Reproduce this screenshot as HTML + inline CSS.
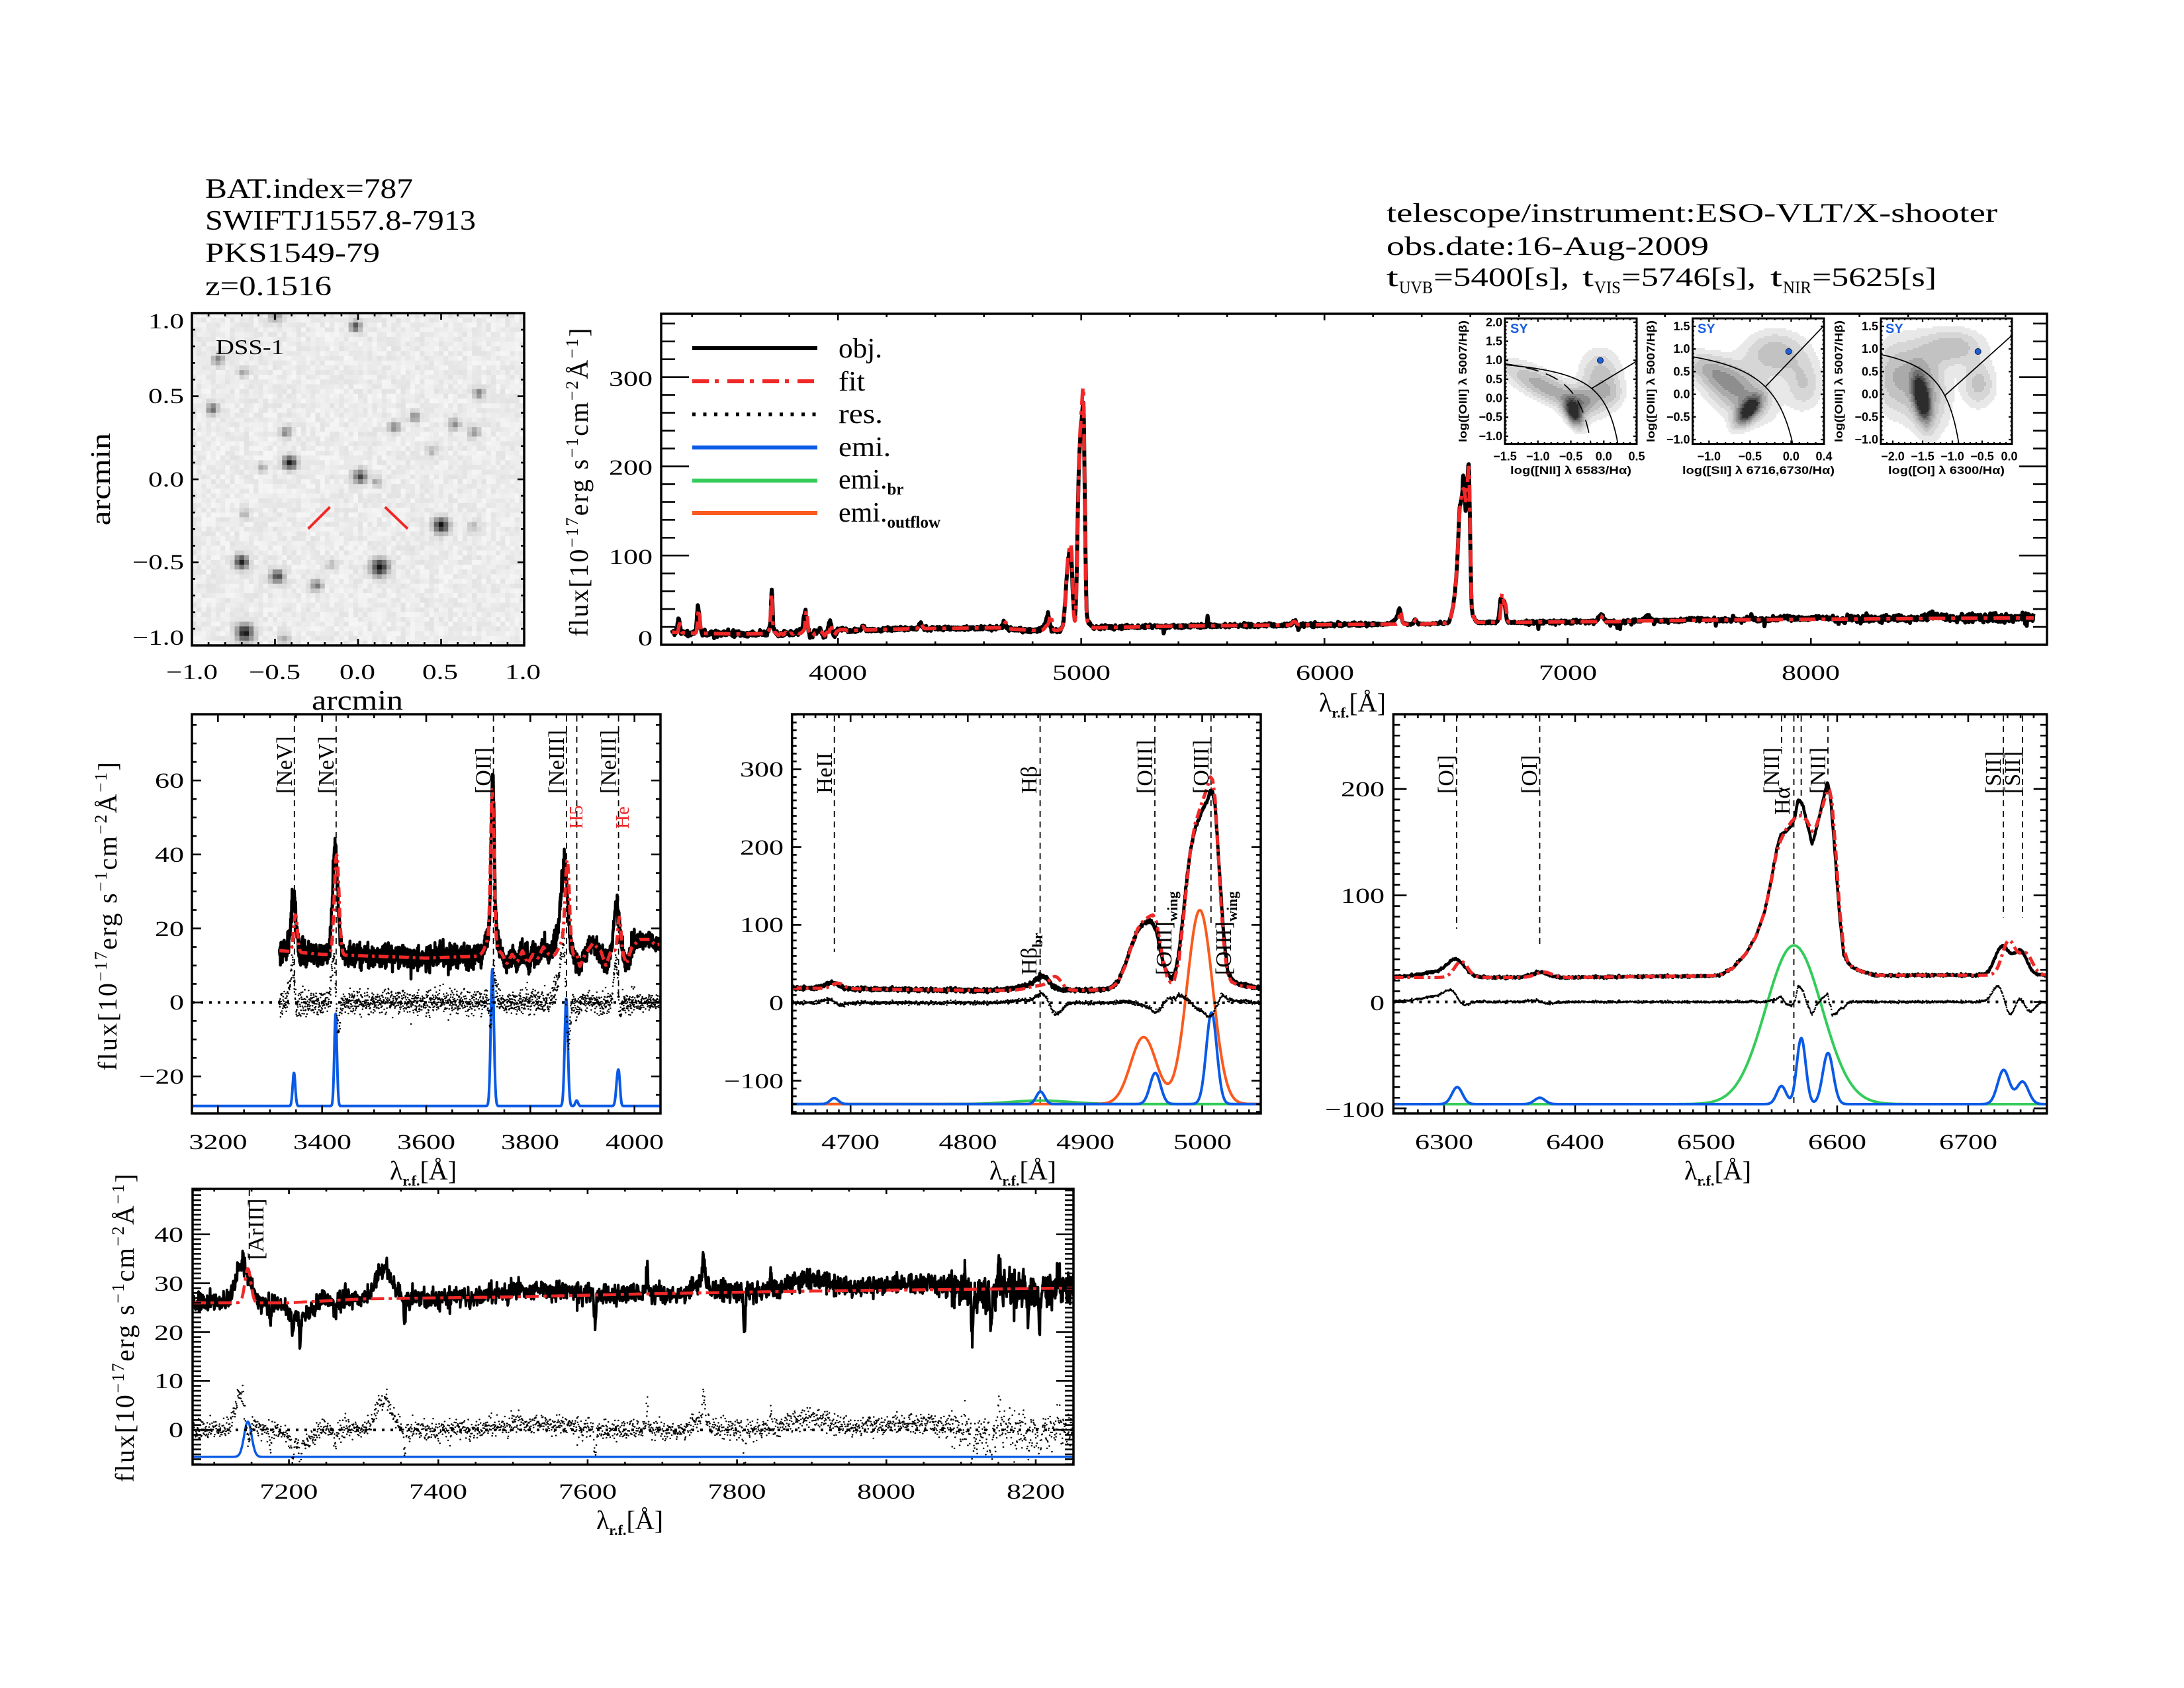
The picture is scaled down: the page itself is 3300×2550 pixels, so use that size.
<!DOCTYPE html>
<html><head><meta charset="utf-8"><title>spectrum</title>
<style>
html,body{margin:0;padding:0;background:#fff;width:3300px;height:2550px;overflow:hidden}
svg{display:block}
.s{font-family:"Liberation Serif","DejaVu Serif",serif}
.b{font-family:"Liberation Sans","DejaVu Sans",sans-serif;font-weight:bold}
</style></head><body>
<svg xmlns="http://www.w3.org/2000/svg" width="3300" height="2550" viewBox="0 0 3300 2550">
<rect width="3300" height="2550" fill="#fff"/>
<g id="dyn"></g>

<!-- DSS red marks -->
<line x1="465.6" y1="798.8" x2="498.6" y2="765.9" stroke="#f02828" stroke-width="4"/>
<line x1="581.7" y1="765.9" x2="616" y2="798.8" stroke="#f02828" stroke-width="4"/>

<!-- legend lines -->
<line x1="1046" y1="526" x2="1235" y2="526" stroke="#000" stroke-width="6"/>
<line x1="1046" y1="576" x2="1235" y2="576" stroke="#f02828" stroke-width="6" stroke-dasharray="25 9 6 13"/>
<line x1="1046" y1="626" x2="1235" y2="626" stroke="#000" stroke-width="5.5" stroke-dasharray="5 11.5"/>
<line x1="1046" y1="676" x2="1235" y2="676" stroke="#0a5ae6" stroke-width="6"/>
<line x1="1046" y1="726" x2="1235" y2="726" stroke="#33cc5a" stroke-width="6"/>
<line x1="1046" y1="775" x2="1235" y2="775" stroke="#fa5a1e" stroke-width="6"/>

<g class="s" fill="#000">
<!-- header left -->
<text x="310" y="299" font-size="42" textLength="314" lengthAdjust="spacingAndGlyphs">BAT.index=787</text>
<text x="310" y="347" font-size="42" textLength="409" lengthAdjust="spacingAndGlyphs">SWIFTJ1557.8-7913</text>
<text x="310" y="396" font-size="42" textLength="264" lengthAdjust="spacingAndGlyphs">PKS1549-79</text>
<text x="310" y="446" font-size="42" textLength="191" lengthAdjust="spacingAndGlyphs">z=0.1516</text>
<!-- header right -->
<text x="2095" y="335" font-size="40" textLength="923" lengthAdjust="spacingAndGlyphs">telescope/instrument:ESO-VLT/X-shooter</text>
<text x="2095" y="385" font-size="40" textLength="487" lengthAdjust="spacingAndGlyphs">obs.date:16-Aug-2009</text>
<text x="2095" y="432" font-size="40" textLength="18" lengthAdjust="spacingAndGlyphs">t</text>
<text x="2114" y="443" font-size="26" textLength="51" lengthAdjust="spacingAndGlyphs">UVB</text>
<text x="2166" y="432" font-size="40" textLength="205" lengthAdjust="spacingAndGlyphs">=5400[s],</text>
<text x="2391" y="432" font-size="40" textLength="17" lengthAdjust="spacingAndGlyphs">t</text>
<text x="2409" y="443" font-size="26" textLength="40" lengthAdjust="spacingAndGlyphs">VIS</text>
<text x="2450" y="432" font-size="40" textLength="203" lengthAdjust="spacingAndGlyphs">=5746[s],</text>
<text x="2675" y="432" font-size="40" textLength="18" lengthAdjust="spacingAndGlyphs">t</text>
<text x="2694" y="443" font-size="26" textLength="43" lengthAdjust="spacingAndGlyphs">NIR</text>
<text x="2738" y="432" font-size="40" textLength="188" lengthAdjust="spacingAndGlyphs">=5625[s]</text>

<!-- DSS -->
<text x="326" y="535" font-size="32" textLength="103" lengthAdjust="spacingAndGlyphs">DSS-1</text>
<g font-size="33">
<text x="278" y="496" text-anchor="end" textLength="54" lengthAdjust="spacingAndGlyphs">1.0</text>
<text x="278" y="609" text-anchor="end" textLength="54" lengthAdjust="spacingAndGlyphs">0.5</text>
<text x="278" y="735" text-anchor="end" textLength="54" lengthAdjust="spacingAndGlyphs">0.0</text>
<text x="278" y="860" text-anchor="end" textLength="78" lengthAdjust="spacingAndGlyphs">−0.5</text>
<text x="278" y="974" text-anchor="end" textLength="78" lengthAdjust="spacingAndGlyphs">−1.0</text>
<text x="290" y="1026" text-anchor="middle" textLength="78" lengthAdjust="spacingAndGlyphs">−1.0</text>
<text x="415" y="1026" text-anchor="middle" textLength="78" lengthAdjust="spacingAndGlyphs">−0.5</text>
<text x="540" y="1026" text-anchor="middle" textLength="54" lengthAdjust="spacingAndGlyphs">0.0</text>
<text x="665" y="1026" text-anchor="middle" textLength="54" lengthAdjust="spacingAndGlyphs">0.5</text>
<text x="790" y="1026" text-anchor="middle" textLength="54" lengthAdjust="spacingAndGlyphs">1.0</text>
</g>
<text x="540" y="1072" font-size="42" text-anchor="middle" textLength="138" lengthAdjust="spacingAndGlyphs">arcmin</text>
<text transform="translate(166,724) rotate(-90)" font-size="42" text-anchor="middle" textLength="140" lengthAdjust="spacingAndGlyphs">arcmin</text>

<!-- top panel -->
<g font-size="33">
<text x="986" y="975" text-anchor="end" textLength="22" lengthAdjust="spacingAndGlyphs">0</text>
<text x="986" y="852" text-anchor="end" textLength="66" lengthAdjust="spacingAndGlyphs">100</text>
<text x="986" y="717" text-anchor="end" textLength="66" lengthAdjust="spacingAndGlyphs">200</text>
<text x="986" y="583" text-anchor="end" textLength="66" lengthAdjust="spacingAndGlyphs">300</text>
<text x="1266" y="1027" text-anchor="middle" textLength="88" lengthAdjust="spacingAndGlyphs">4000</text>
<text x="1634" y="1027" text-anchor="middle" textLength="88" lengthAdjust="spacingAndGlyphs">5000</text>
<text x="2002" y="1027" text-anchor="middle" textLength="88" lengthAdjust="spacingAndGlyphs">6000</text>
<text x="2369" y="1027" text-anchor="middle" textLength="88" lengthAdjust="spacingAndGlyphs">7000</text>
<text x="2736" y="1027" text-anchor="middle" textLength="88" lengthAdjust="spacingAndGlyphs">8000</text>
</g>
<text x="1993" y="1075" font-size="40">λ<tspan font-size="22" font-weight="bold" dy="9">r.f.</tspan><tspan dy="-9">[Å]</tspan></text>
<text transform="translate(888,727.5) rotate(-90)" font-size="40" text-anchor="middle" letter-spacing="2.4">flux[10<tspan font-size="26" dy="-15">−17</tspan><tspan dy="15">erg s</tspan><tspan font-size="26" dy="-15">−1</tspan><tspan dy="15">cm</tspan><tspan font-size="26" dy="-15">−2</tspan><tspan dy="15">Å</tspan><tspan font-size="26" dy="-15">−1</tspan><tspan dy="15">]</tspan></text>
<text x="1267" y="540" font-size="42" textLength="66" lengthAdjust="spacingAndGlyphs">obj.</text>
<text x="1267" y="590" font-size="42" textLength="40" lengthAdjust="spacingAndGlyphs">fit</text>
<text x="1267" y="639" font-size="42" textLength="67" lengthAdjust="spacingAndGlyphs">res.</text>
<text x="1267" y="689" font-size="42" textLength="79" lengthAdjust="spacingAndGlyphs">emi.</text>
<text x="1267" y="738" font-size="42">emi.<tspan font-size="25" font-weight="bold" dy="9">br</tspan></text>
<text x="1267" y="788" font-size="42">emi.<tspan font-size="25" font-weight="bold" dy="9">outflow</tspan></text>

<!-- middle-left panel -->
<g font-size="33">
<text x="278" y="1190" text-anchor="end" textLength="44" lengthAdjust="spacingAndGlyphs">60</text>
<text x="278" y="1302" text-anchor="end" textLength="44" lengthAdjust="spacingAndGlyphs">40</text>
<text x="278" y="1414" text-anchor="end" textLength="44" lengthAdjust="spacingAndGlyphs">20</text>
<text x="278" y="1525" text-anchor="end" textLength="22" lengthAdjust="spacingAndGlyphs">0</text>
<text x="278" y="1637" text-anchor="end" textLength="68" lengthAdjust="spacingAndGlyphs">−20</text>
<text x="329.5" y="1736" text-anchor="middle" textLength="88" lengthAdjust="spacingAndGlyphs">3200</text>
<text x="487" y="1736" text-anchor="middle" textLength="88" lengthAdjust="spacingAndGlyphs">3400</text>
<text x="644" y="1736" text-anchor="middle" textLength="88" lengthAdjust="spacingAndGlyphs">3600</text>
<text x="801" y="1736" text-anchor="middle" textLength="88" lengthAdjust="spacingAndGlyphs">3800</text>
<text x="959" y="1736" text-anchor="middle" textLength="88" lengthAdjust="spacingAndGlyphs">4000</text>
</g>
<text x="589" y="1782" font-size="40">λ<tspan font-size="22" font-weight="bold" dy="9">r.f.</tspan><tspan dy="-9">[Å]</tspan></text>
<text transform="translate(176,1383) rotate(-90)" font-size="40" text-anchor="middle" letter-spacing="2.4">flux[10<tspan font-size="26" dy="-15">−17</tspan><tspan dy="15">erg s</tspan><tspan font-size="26" dy="-15">−1</tspan><tspan dy="15">cm</tspan><tspan font-size="26" dy="-15">−2</tspan><tspan dy="15">Å</tspan><tspan font-size="26" dy="-15">−1</tspan><tspan dy="15">]</tspan></text>
<g font-size="34">
<text transform="translate(440.8,1199) rotate(-90)">[NeV]</text>
<text transform="translate(503.9,1199) rotate(-90)">[NeV]</text>
<text transform="translate(741.6,1199) rotate(-90)">[OII]</text>
<text transform="translate(852,1199) rotate(-90)">[NeIII]</text>
<text transform="translate(930.6,1199) rotate(-90)">[NeIII]</text>
</g>
<text transform="translate(880,1252) rotate(-90)" font-size="29" fill="#f02828">H5</text>
<text transform="translate(950,1252) rotate(-90)" font-size="29" fill="#f02828">He</text>

<!-- middle panel -->
<g font-size="33">
<text x="1184" y="1173" text-anchor="end" textLength="66" lengthAdjust="spacingAndGlyphs">300</text>
<text x="1184" y="1291" text-anchor="end" textLength="66" lengthAdjust="spacingAndGlyphs">200</text>
<text x="1184" y="1408" text-anchor="end" textLength="66" lengthAdjust="spacingAndGlyphs">100</text>
<text x="1184" y="1526" text-anchor="end" textLength="22" lengthAdjust="spacingAndGlyphs">0</text>
<text x="1184" y="1644" text-anchor="end" textLength="90" lengthAdjust="spacingAndGlyphs">−100</text>
<text x="1285" y="1736" text-anchor="middle" textLength="88" lengthAdjust="spacingAndGlyphs">4700</text>
<text x="1462.5" y="1736" text-anchor="middle" textLength="88" lengthAdjust="spacingAndGlyphs">4800</text>
<text x="1640" y="1736" text-anchor="middle" textLength="88" lengthAdjust="spacingAndGlyphs">4900</text>
<text x="1817" y="1736" text-anchor="middle" textLength="88" lengthAdjust="spacingAndGlyphs">5000</text>
</g>
<text x="1495" y="1782" font-size="40">λ<tspan font-size="22" font-weight="bold" dy="9">r.f.</tspan><tspan dy="-9">[Å]</tspan></text>
<g font-size="34">
<text transform="translate(1257,1199) rotate(-90)">HeII</text>
<text transform="translate(1566,1199) rotate(-90)">Hβ</text>
<text transform="translate(1741,1199) rotate(-90)">[OIII]</text>
<text transform="translate(1826,1199) rotate(-90)">[OIII]</text>
<text transform="translate(1566,1473) rotate(-90)">Hβ<tspan font-size="22" font-weight="bold" dy="9">br</tspan></text>
<text transform="translate(1770,1473) rotate(-90)">[OIII]<tspan font-size="22" font-weight="bold" dy="9">wing</tspan></text>
<text transform="translate(1860,1473) rotate(-90)">[OIII]<tspan font-size="22" font-weight="bold" dy="9">wing</tspan></text>
</g>

<!-- right panel -->
<g font-size="33">
<text x="2092" y="1203" text-anchor="end" textLength="66" lengthAdjust="spacingAndGlyphs">200</text>
<text x="2092" y="1364" text-anchor="end" textLength="66" lengthAdjust="spacingAndGlyphs">100</text>
<text x="2092" y="1526" text-anchor="end" textLength="22" lengthAdjust="spacingAndGlyphs">0</text>
<text x="2092" y="1687" text-anchor="end" textLength="90" lengthAdjust="spacingAndGlyphs">−100</text>
<text x="2182" y="1736" text-anchor="middle" textLength="88" lengthAdjust="spacingAndGlyphs">6300</text>
<text x="2380" y="1736" text-anchor="middle" textLength="88" lengthAdjust="spacingAndGlyphs">6400</text>
<text x="2578" y="1736" text-anchor="middle" textLength="88" lengthAdjust="spacingAndGlyphs">6500</text>
<text x="2776" y="1736" text-anchor="middle" textLength="88" lengthAdjust="spacingAndGlyphs">6600</text>
<text x="2974" y="1736" text-anchor="middle" textLength="88" lengthAdjust="spacingAndGlyphs">6700</text>
</g>
<text x="2545" y="1782" font-size="40">λ<tspan font-size="22" font-weight="bold" dy="9">r.f.</tspan><tspan dy="-9">[Å]</tspan></text>
<g font-size="34">
<text transform="translate(2196,1199) rotate(-90)">[OI]</text>
<text transform="translate(2322,1199) rotate(-90)">[OI]</text>
<text transform="translate(2688,1199) rotate(-90)">[NII]</text>
<text transform="translate(2704,1231) rotate(-90)">Hα</text>
<text transform="translate(2758,1199) rotate(-90)">[NII]</text>
<text transform="translate(3023,1199) rotate(-90)">[SII]</text>
<text transform="translate(3052,1199) rotate(-90)">[SII]</text>
</g>

<!-- bottom panel -->
<g font-size="33">
<text x="277" y="1876" text-anchor="end" textLength="44" lengthAdjust="spacingAndGlyphs">40</text>
<text x="277" y="1950" text-anchor="end" textLength="44" lengthAdjust="spacingAndGlyphs">30</text>
<text x="277" y="2024" text-anchor="end" textLength="44" lengthAdjust="spacingAndGlyphs">20</text>
<text x="277" y="2097" text-anchor="end" textLength="44" lengthAdjust="spacingAndGlyphs">10</text>
<text x="277" y="2171" text-anchor="end" textLength="22" lengthAdjust="spacingAndGlyphs">0</text>
<text x="436.4" y="2264" text-anchor="middle" textLength="88" lengthAdjust="spacingAndGlyphs">7200</text>
<text x="662" y="2264" text-anchor="middle" textLength="88" lengthAdjust="spacingAndGlyphs">7400</text>
<text x="888" y="2264" text-anchor="middle" textLength="88" lengthAdjust="spacingAndGlyphs">7600</text>
<text x="1113.5" y="2264" text-anchor="middle" textLength="88" lengthAdjust="spacingAndGlyphs">7800</text>
<text x="1339" y="2264" text-anchor="middle" textLength="88" lengthAdjust="spacingAndGlyphs">8000</text>
<text x="1565" y="2264" text-anchor="middle" textLength="88" lengthAdjust="spacingAndGlyphs">8200</text>
</g>
<text x="901" y="2310" font-size="40">λ<tspan font-size="22" font-weight="bold" dy="9">r.f.</tspan><tspan dy="-9">[Å]</tspan></text>
<text transform="translate(202,2005) rotate(-90)" font-size="40" text-anchor="middle" letter-spacing="2.4">flux[10<tspan font-size="26" dy="-15">−17</tspan><tspan dy="15">erg s</tspan><tspan font-size="26" dy="-15">−1</tspan><tspan dy="15">cm</tspan><tspan font-size="26" dy="-15">−2</tspan><tspan dy="15">Å</tspan><tspan font-size="26" dy="-15">−1</tspan><tspan dy="15">]</tspan></text>
<text transform="translate(398,1903) rotate(-90)" font-size="34">[ArIII]</text>
</g>

<!-- inset texts -->
<g class="b" fill="#000" font-size="18">
<text x="2270" y="493" text-anchor="end">2.0</text>
<text x="2270" y="521.5" text-anchor="end">1.5</text>
<text x="2270" y="550" text-anchor="end">1.0</text>
<text x="2270" y="579" text-anchor="end">0.5</text>
<text x="2270" y="607.6" text-anchor="end">0.0</text>
<text x="2270" y="636" text-anchor="end">−0.5</text>
<text x="2270" y="665" text-anchor="end">−1.0</text>
<text x="2274" y="695.5" text-anchor="middle">−1.5</text>
<text x="2323.8" y="695.5" text-anchor="middle">−1.0</text>
<text x="2373.5" y="695.5" text-anchor="middle">−0.5</text>
<text x="2423.3" y="695.5" text-anchor="middle">0.0</text>
<text x="2473" y="695.5" text-anchor="middle">0.5</text>
<text x="2373.5" y="716" text-anchor="middle" font-size="17" textLength="183" lengthAdjust="spacingAndGlyphs">log([NII] λ 6583/Hα)</text>
<text transform="translate(2216,576) rotate(-90)" text-anchor="middle" font-size="17" textLength="184" lengthAdjust="spacingAndGlyphs">log([OIII] λ 5007/Hβ)</text>

<text x="2553.5" y="499" text-anchor="end">1.5</text>
<text x="2553.5" y="533.2" text-anchor="end">1.0</text>
<text x="2553.5" y="567.4" text-anchor="end">0.5</text>
<text x="2553.5" y="601.6" text-anchor="end">0.0</text>
<text x="2553.5" y="635.8" text-anchor="end">−0.5</text>
<text x="2553.5" y="670" text-anchor="end">−1.0</text>
<text x="2582.3" y="695.5" text-anchor="middle">−1.0</text>
<text x="2644.3" y="695.5" text-anchor="middle">−0.5</text>
<text x="2706.4" y="695.5" text-anchor="middle">0.0</text>
<text x="2756" y="695.5" text-anchor="middle">0.4</text>
<text x="2657" y="716" text-anchor="middle" font-size="17" textLength="230" lengthAdjust="spacingAndGlyphs">log([SII] λ 6716,6730/Hα)</text>
<text transform="translate(2500,576) rotate(-90)" text-anchor="middle" font-size="17" textLength="184" lengthAdjust="spacingAndGlyphs">log([OIII] λ 5007/Hβ)</text>

<text x="2838" y="499" text-anchor="end">1.5</text>
<text x="2838" y="533.2" text-anchor="end">1.0</text>
<text x="2838" y="567.4" text-anchor="end">0.5</text>
<text x="2838" y="601.6" text-anchor="end">0.0</text>
<text x="2838" y="635.8" text-anchor="end">−0.5</text>
<text x="2838" y="670" text-anchor="end">−1.0</text>
<text x="2860" y="695.5" text-anchor="middle">−2.0</text>
<text x="2905" y="695.5" text-anchor="middle">−1.5</text>
<text x="2950" y="695.5" text-anchor="middle">−1.0</text>
<text x="2995" y="695.5" text-anchor="middle">−0.5</text>
<text x="3036" y="695.5" text-anchor="middle">0.0</text>
<text x="2941" y="716" text-anchor="middle" font-size="17" textLength="176" lengthAdjust="spacingAndGlyphs">log([OI] λ 6300/Hα)</text>
<text transform="translate(2784,576) rotate(-90)" text-anchor="middle" font-size="17" textLength="184" lengthAdjust="spacingAndGlyphs">log([OIII] λ 5007/Hβ)</text>

<text x="2282" y="503" fill="#1a5fe0" font-size="20">SY</text>
<text x="2565" y="503" fill="#1a5fe0" font-size="20">SY</text>
<text x="2849" y="503" fill="#1a5fe0" font-size="20">SY</text>
</g>
</svg>
<script>
(function(){
const NS='http://www.w3.org/2000/svg';
const root=document.getElementById('dyn');
function el(t,a,p){const e=document.createElementNS(NS,t);for(const k in a)e.setAttribute(k,a[k]);(p||root).appendChild(e);return e;}
let S=20240601;
function rnd(){S=(Math.imul(S,1664525)+1013904223)>>>0;return S/4294967296;}
function gn(){let u=rnd();if(u<1e-12)u=1e-12;return Math.sqrt(-2*Math.log(u))*Math.cos(6.283185307*rnd());}
function G(l,a,m,s){const d=(l-m)/s;return a*Math.exp(-0.5*d*d);}
function interp(A,l){if(l<=A[0][0])return A[0][1];const n=A.length;if(l>=A[n-1][0])return A[n-1][1];let lo=0,hi=n-1;while(hi-lo>1){const m=(lo+hi)>>1;if(A[m][0]<=l)lo=m;else hi=m;}const t=(l-A[lo][0])/(A[hi][0]-A[lo][0]);return A[lo][1]+(A[hi][1]-A[lo][1])*t;}
const RED='#f02828',BLUE='#0a5ae6',GREEN='#33cc5a',ORANGE='#fa5a1e';

/* ---------- DSS image ---------- */
(function(){
 const x0=290,y0=473,W=502,N=70,cs=W/N;
 const stars=[[537,493,.7,6],[417,478,.4,7],[330,543,.5,6],[368,562,.35,5],[321,618,.6,6],[724,594,.6,5],[627,630,.6,5],[596,645,.5,6],[687,641,.45,6],[716,653,.45,6],[432,653,.5,6],[438,699,1.0,7],[397,707,.35,5],[544,720,.8,7],[569,728,.35,5],[652,682,.25,6],[667,794,1.0,8],[370,777,.3,5],[365,849,1.0,7],[419,871,.8,7],[478,884,.6,6],[501,853,.3,5],[574,857,1.0,9],[370,956,1.0,9],[429,965,.3,6],[716,795,.25,6]];
 const g=el('g',{});
 for(let j=0;j<N;j++)for(let i=0;i<N;i++){
  const cx=x0+(i+.5)*cs,cy=y0+(j+.5)*cs;let s=0;
  for(const t of stars){const dx=cx-t[0],dy=cy-t[1];s+=t[2]*Math.exp(-(dx*dx+dy*dy)/(2*t[3]*t[3]));}
  if(s>1)s=1;
  let v=Math.round(236+(rnd()-.5)*20-215*s);v=Math.max(10,Math.min(250,v));
  el('rect',{x:(x0+i*cs).toFixed(2),y:(y0+j*cs).toFixed(2),width:(cs+.4).toFixed(2),height:(cs+.4).toFixed(2),fill:'rgb('+v+','+v+','+v+')'},g);
 }
})();

/* ---------- spectral model ---------- */
const contA=[[3300,14],[3320,14],[3400,13],[3500,12.5],[3600,12],[3700,12.5],[3745,13],[3755,10.5],[3765,13],[3775,11],[3785,14],[3795,10.5],[3805,13],[3815,12],[3825,15],[3835,13],[3848,11],[3855,10.5],[3880,13],[3895,9.5],[3905,13],[3920,16],[3935,14],[3945,10],[3955,14],[3975,14],[3985,10.5],[3995,15],[4010,17],[4030,17],[4040,15.5],[4060,16],[4300,18],[4500,18.5],[4650,19],[4700,18],[4800,16],[4900,16],[5050,19],[5300,20.5],[5600,21.5],[6000,22.5],[6261,23],[6400,23],[6500,24.5],[6650,25],[6780,25],[7071,26],[7200,26],[7300,26.8],[7500,27.2],[7700,27.9],[7900,28.4],[8250,29],[8500,29.5],[8950,30]];
const objL=[[14,3345,5],[29,3425,5],[42,3728,3],[7,3725,9],[20,3866,6],[8,3858,10],[12,3966,5],[4,4102,5],[6,4340,6],[7,4684,6],[13,4864,5],[7,4856,12],[4,5876,8],[-6,5893,3],[14,6309,6.5],[5,6295,14],[5,6373,6],[27,6726,5.5],[22,6740,5],[8,7138,9],[6,7328,11],[2,7750,10],[2.5,7895,25],[-2.5,7215,15],[1.5,7530,40],[1.3,8030,50],[-1,8125,20],[4,8500,30],
 [-4,7175,1.2],[-5,7205,1.2],[-6,7215,1.2],[-4,7262,1.2],[-5,7355,1.2],[-6,7610,1.2],[5,7680,1.2],[6,7755,1.2],[-8,7810,1.2],[4,7845,1.2],[-9,8115,1.2],[-8,8140,1.2],[5,8150,1.2],[-7,8190,1.2],[-8,8205,1.2],[4,8230,1.2],[10,5520,2],[-8,5340,2],[-6,6880,2]];
const fitL=[[10,3349,3.5],[27,3428,4.5],[40,3727,3.2],[5,3724,9],[24,3871,4],[5,3860,9],[2,3889,3],[9,3971,3],[4,4102,5],[6,4340,6],[7,4689,5],[15,4875,5],[6,4862,10],[4,5876,8],[15,6313,5],[5,6376,6],[32,6731,5],[20,6744,5],[7,7145,4]];
const oA=[[4900,16],[4915,17],[4922,19],[4928,27],[4934,48],[4940,75],[4945,93],[4950,102],[4955,105],[4958,102],[4961,92],[4964,70],[4967,50],[4970,38],[4974,31],[4977,38],[4980,62],[4984,115],[4987,160],[4990,196],[4994,224],[5000,247],[5004,258],[5007,273],[5009,270],[5011,255],[5014,185],[5016,140],[5018,95],[5020,62],[5022,40],[5025,30],[5030,25],[5035,23],[5050,19]];
const foA=[[4900,16],[4915,17],[4922,19],[4928,26],[4934,46],[4940,74],[4945,95],[4950,106],[4955,111],[4958,113],[4961,104],[4964,78],[4967,52],[4970,34],[4973,26],[4976,28],[4980,52],[4984,108],[4987,155],[4990,195],[4994,230],[5000,258],[5004,275],[5007,290],[5009,286],[5011,262],[5014,185],[5016,130],[5018,85],[5020,55],[5022,36],[5025,27],[5030,23],[5035,21],[5050,19]];
const hA=[[6480,24],[6500,24.5],[6510.6,25],[6520.7,32],[6530.8,46],[6537.5,60.5],[6544.5,84],[6549.5,113],[6553.7,143],[6557,156.6],[6561,160],[6564.9,165],[6568,174.5],[6569.9,190],[6572,188],[6574,184],[6577,168],[6580.8,148.5],[6583,157],[6585,167],[6589,188],[6592.6,206.5],[6595,191],[6598.5,137],[6601.9,80],[6605,44],[6608,37],[6612,32],[6620,28],[6629,25],[6640,25]];
const fhA=[[6480,24],[6500,24.5],[6510.6,25],[6520.7,32],[6530.8,46],[6537.5,60],[6544.5,84],[6549.5,112],[6553.7,140],[6557,152],[6561,162],[6565,169],[6569,174],[6573,175],[6577,170],[6581,160],[6584,165],[6588,180],[6592,197],[6594,200],[6596,188],[6599,140],[6602,85],[6605,50],[6608,38],[6612,32],[6620,28],[6629,25],[6640,25]];
function objF(l){if(l>=4900&&l<=5050)return interp(oA,l);if(l>=6480&&l<=6640)return interp(hA,l);let v=interp(contA,l);for(const L of objL){if(Math.abs(l-L[1])<6*L[2])v+=G(l,L[0],L[1],L[2]);}return v;}
function fitF(l){if(l>=4900&&l<=5050)return interp(foA,l);if(l>=6480&&l<=6640)return interp(fhA,l);let v=interp(contA,l);for(const L of fitL){if(Math.abs(l-L[1])<6*L[2])v+=G(l,L[0],L[1],L[2]);}return v;}
function sig(l){if(l<4000)return 1.6;if(l<4600)return 1.0;if(l<5100)return 1.2;if(l<6200)return 1.0;if(l<6800)return 0.55;if(l<8080)return 1.0;if(l<8600)return 1.9;return 3;}

/* ---------- panels ---------- */
let cid=0;
function mk(p){
 p.X=l=>p.x0+(l-p.l0)/(p.l1-p.l0)*(p.x1-p.x0);
 p.Y=f=>p.y1-(f-p.f0)/(p.f1-p.f0)*(p.y1-p.y0);
 const id='cp'+(cid++);const cp=el('clipPath',{id});
 el('rect',{x:p.x0,y:p.y0,width:p.x1-p.x0,height:p.y1-p.y0},cp);
 p.g=el('g',{'clip-path':'url(#'+id+')'});
 return p;
}
function axes(p,xm,xn,ym,yn,xl,yl,w){
 w=w||3.5;
 let d='';const xs=xm/xn;
 for(let i=Math.ceil(p.l0/xs-1e-6);i*xs<=p.l1+1e-6;i++){const maj=(i%xn===0);const L=maj?xl:xl*.5;const x=p.X(i*xs).toFixed(1);d+='M'+x+' '+p.y1+'v'+(-L)+'M'+x+' '+p.y0+'v'+L;}
 const ys=ym/yn;
 for(let i=Math.ceil(p.f0/ys-1e-6);i*ys<=p.f1+1e-6;i++){const maj=(i%yn===0);const L=maj?yl:yl*.5;const y=p.Y(i*ys).toFixed(1);d+='M'+p.x0+' '+y+'h'+L+'M'+p.x1+' '+y+'h'+(-L);}
 el('path',{d,stroke:'#000','stroke-width':w*.75,fill:'none'});
 el('rect',{x:p.x0,y:p.y0,width:p.x1-p.x0,height:p.y1-p.y0,fill:'none',stroke:'#000','stroke-width':w});
}
function markers(p,M){for(const m of M)el('line',{x1:m[0],y1:m[1],x2:m[0],y2:m[2],stroke:'#000','stroke-width':1.8,'stroke-dasharray':'9 7'},p.g);}
function comp(p,base,lines,color,w){let d='';const n=1600;for(let i=0;i<=n;i++){const l=p.l0+(p.l1-p.l0)*i/n;let v=base;for(const L of lines)v+=G(l,L[0],L[1],L[2]);d+=(i?'L':'M')+p.X(l).toFixed(1)+' '+p.Y(v).toFixed(1);}el('path',{d,fill:'none',stroke:color,'stroke-width':w,'stroke-linejoin':'round'},p.g);}
function spec(p,step,o){
 const la=Math.max(p.l0,3318),lb=Math.min(p.l1,8917);
 let dO='',dF='',dR='';
 for(let l=la;l<=lb;l+=step){
  const ov=objF(l)+sig(l)*gn();const fv=fitF(l);const x=p.X(l).toFixed(1);
  dO+=(dO?'L':'M')+x+' '+p.Y(ov).toFixed(1);
  dF+=(dF?'L':'M')+x+' '+p.Y(fv).toFixed(1);
  if(o.res)dR+='M'+x+' '+p.Y(ov-fv).toFixed(1)+'h0.3';
 }
 if(o.res){
  el('line',{x1:p.x0,y1:p.Y(0),x2:p.x1,y2:p.Y(0),stroke:'#000','stroke-width':4,'stroke-dasharray':'4 9'},p.g);
  el('path',{d:dR,stroke:'#000','stroke-width':2.4,'stroke-linecap':'round',fill:'none'},p.g);
 }
 el('path',{d:dO,fill:'none',stroke:'#000','stroke-width':o.ow,'stroke-linejoin':'round'},p.g);
 el('path',{d:dF,fill:'none',stroke:RED,'stroke-width':o.fw,'stroke-dasharray':o.dash,'stroke-linejoin':'round'},p.g);
}

// DSS axes
axes(mk({x0:290,x1:792,y0:473,y1:975,l0:-1,l1:1,f0:-1,f1:1}),0.5,5,0.5,5,10,10,3.5);

// top panel
const T=mk({x0:999,x1:3093,y0:474,y1:974,l0:3273,l1:8971,f0:0,f1:371});
spec(T,1.6,{res:false,ow:6,fw:5.5,dash:'25 9 6 9'});
axes(T,1000,5,100,5,10,42,3.5);

// middle-left
const A=mk({x0:290,x1:998,y0:1079,y1:1682,l0:3150,l1:4050,f0:-30,f1:77.9});
markers(A,[[444.8,1081,1500],[507.9,1081,1500],[745.6,1081,1500],[856,1081,1510],[871.5,1081,1375],[934.6,1081,1510]]);
comp(A,-28,[[9,3346,2.5],[25,3426,2.5],[37,3727,3],[29,3869,3],[1.5,3889,2.5],[8.5,3968,3],[3,3971,2]],BLUE,4);
spec(A,0.4,{res:true,ow:4.5,fw:5,dash:'15 6 4 6'});
axes(A,200,4,20,4,12,14,3.5);

// middle
const B=mk({x0:1196.7,x1:1905,y0:1079,y1:1682,l0:4650,l1:5050,f0:-142,f1:370.5});
markers(B,[[1260.7,1081,1438],[1571.6,1081,1672],[1745,1081,1380],[1829.8,1081,1400]]);
comp(B,-130,[[4.5,4862,25]],GREEN,4);
comp(B,-130,[[86,4950,11],[249,4998,11]],ORANGE,4);
comp(B,-130,[[7.6,4686,3.5],[16,4862,3.5],[40,4960,4.5],[117.5,5008,4.5]],BLUE,4);
spec(B,0.3,{res:true,ow:5,fw:5,dash:'15 6 4 6'});
axes(B,100,10,100,10,12,14,3.5);

// right
const C=mk({x0:2105.4,x1:3092.7,y0:1079,y1:1682,l0:6261.3,l1:6760,f0:-104.7,f1:270});
markers(C,[[2201,1081,1403],[2326.5,1081,1430],[2692,1081,1130],[2710.5,1081,1672],[2721.6,1081,1233],[2762,1081,1175],[3027,1081,1386],[3056,1081,1386]]);
comp(C,-96,[[149,6567,21.5]],GREEN,4);
comp(C,-96,[[16,6310,4],[6,6373,4],[17,6557.5,3.6],[62,6572.6,3.4],[48,6593,4],[32,6727,4.5],[21,6741.5,4.5]],BLUE,4);
spec(C,0.35,{res:true,ow:4.5,fw:5,dash:'15 6 4 6'});
axes(C,100,10,100,10,12,20,3.5);

// bottom
const D=mk({x0:291,x1:1622,y0:1796,y1:2212.5,l0:7071,l1:8250.5,f0:-7.1,f1:49.3});
markers(D,[[376.7,1798,1905]]);
comp(D,-5.5,[[7.2,7145,5]],BLUE,3.5);
spec(D,0.5,{res:true,ow:4,fw:4.5,dash:'20 7 5 7'});
axes(D,200,4,10,10,8,26,3.5);

/* ---------- BPT insets ---------- */
function inset(b,xr,yr,blobs,curves,dot){
 const p=mk({x0:b[0],x1:b[1],y0:b[2],y1:b[3],l0:xr[0],l1:xr[1],f0:yr[0],f1:yr[1]});
 el('rect',{x:b[0],y:b[2],width:b[1]-b[0],height:b[3]-b[2],fill:'#fff'},p.g);
 const lv=[0.07,0.15,0.25,0.37,0.5,0.63,0.77,0.9];
 const col=['#e8e8e8','#d6d6d6','#c2c2c2','#aaaaaa','#8e8e8e','#707070','#4e4e4e','#2c2c2c'];
 const cs=3;
 for(let y=b[2];y<b[3];y+=cs){
  let rk=-1,rx=b[0];
  for(let x=b[0];x<=b[1]+0.01;x+=cs){
   let k=-1;
   if(x<b[1]){
    const cx=x+cs/2,cy=y+cs/2;let Dn=0;
    for(const B of blobs){const dx=cx-B[0],dy=cy-B[1],a=B[5]*Math.PI/180,c=Math.cos(a),s=Math.sin(a);const u=dx*c+dy*s,v=-dx*s+dy*c;Dn+=B[2]*Math.exp(-0.5*(u*u/(B[3]*B[3])+v*v/(B[4]*B[4])));}
    for(let i=0;i<lv.length;i++)if(Dn>=lv[i])k=i;
   }
   if(k!==rk){if(rk>=0)el('rect',{x:rx.toFixed(1),y:y.toFixed(1),width:(x-rx+0.4).toFixed(1),height:cs+0.4,fill:col[rk]},p.g);rk=k;rx=x;}
  }
  if(rk>=0)el('rect',{x:rx.toFixed(1),y:y.toFixed(1),width:(b[1]-rx).toFixed(1),height:cs+0.4,fill:col[rk]},p.g);
 }
 for(const c of curves){
  let d='';for(let i=0;i<=300;i++){const x=c[1]+(c[2]-c[1])*i/300;let y=c[0](x);if(!isFinite(y))continue;if(y<yr[0]-1)y=yr[0]-1;if(y>yr[1]+1)y=yr[1]+1;d+=(d?'L':'M')+p.X(x).toFixed(1)+' '+p.Y(y).toFixed(1);}
  el('path',{d,fill:'none',stroke:'#000','stroke-width':1.7,'stroke-dasharray':c[3]||'none'},p.g);
 }
 el('circle',{cx:dot[0],cy:dot[1],r:4.5,fill:'#1f5fd6',stroke:'#0a1a40','stroke-width':1},p.g);
 axes(p,0.5,5,0.5,5,5,5,3);
}
inset([2274,2473,481,670.5],[-1.5,0.5],[-1.2,2.101],
 [[2336,585,.45,45,13,27],[2378,624,1.0,15,8,65],[2392,605,.4,16,14,0],[2418,566,.3,20,24,0],[2430,595,.25,15,15,0]],
 [[x=>0.61/(x-0.47)+1.19,-1.5,0.3],[x=>0.61/(x-0.05)+1.3,-1.5,-0.15,'20 12'],[x=>1.05*x+0.45,-0.18,0.5]],
 [2418,544.5]);
inset([2557.5,2756,481,670.5],[-1.2,0.4],[-1.095,1.675],
 [[2642,620,1.0,18,9,-50],[2625,590,.5,35,22,35],[2585,560,.3,28,14,25],[2682,535,.35,30,22,0],[2725,580,.25,18,25,0]],
 [[x=>0.72/(x-0.32)+1.30,-1.2,0.3],[x=>1.89*x+0.76,-0.31,0.4]],
 [2702.7,531]);
inset([2842,3040,481,670.5],[-2.2,0.0],[-1.095,1.675],
 [[2904,603,1.0,24,8,80],[2905,585,.5,40,22,80],[2860,570,.3,18,35,0],[2950,525,.35,30,18,0],[2990,580,.3,16,22,0]],
 [[x=>0.73/(x+0.59)+1.33,-2.2,-0.62],[x=>1.18*x+1.30,-1.13,0.0]],
 [2988.7,531]);
})();
</script>
</body></html>
